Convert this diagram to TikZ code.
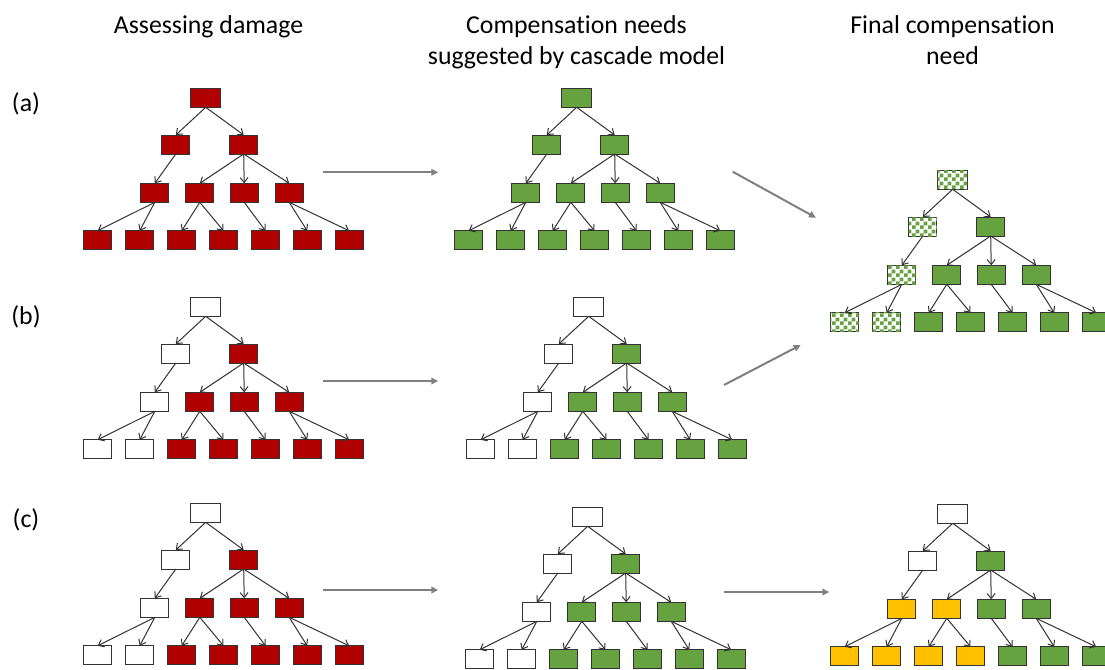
\documentclass[tikz,border=0pt]{standalone}
\usepackage{fontspec}
\setmainfont[Ligatures=NoCommon]{Carlito}
\usetikzlibrary{arrows.meta,patterns}
\pgfdeclarepatternformonly{bigcheck}{\pgfpointorigin}{\pgfqpoint{8pt}{8pt}}{\pgfqpoint{8pt}{8pt}}{%
  \pgfpathrectangle{\pgfpointorigin}{\pgfqpoint{4pt}{4pt}}%
  \pgfpathrectangle{\pgfqpoint{4pt}{4pt}}{\pgfqpoint{4pt}{4pt}}%
  \pgfusepath{fill}}
\definecolor{dmgred}{HTML}{B00000}
\definecolor{cgreen}{HTML}{66A340}
\definecolor{cyellow}{HTML}{FFC000}
\definecolor{edgegray}{HTML}{333333}
\definecolor{flowgray}{HTML}{808080}
\tikzset{
  box/.style={draw=black!80, line width=0.9pt, minimum width=28pt, minimum height=19pt, inner sep=0pt, outer sep=0pt},
  rd/.style={fill=dmgred},
  gr/.style={fill=cgreen},
  yl/.style={fill=cyellow},
  wh/.style={fill=white},
  ck/.style={fill=white, postaction={pattern=bigcheck, pattern color=cgreen}},
  edge/.style={draw=edgegray, line width=1pt, -{Straight Barb[length=5pt,width=8pt]}},
  flow/.style={draw=flowgray, line width=2pt, -{Triangle[length=7pt,width=6.5pt]}},
  title/.style={font=\fontsize{25.8}{31}\selectfont, anchor=base, inner sep=0pt},
  lab/.style={font=\fontsize{25.8}{31}\selectfont, inner sep=0pt}
}
\newcommand\mytree[7]{%
  \begin{scope}[shift={(#2,#3)}]
    \node[box,minimum width=30pt,#4] (#1r) at (205.7,97.8) {};
    \node[box,#4] (#1a1) at (175.8,144.5) {};
    \node[box,#7] (#1a2) at (243.7,144.5) {};
    \node[box,#5] (#1b1) at (154.8,192.8) {};
    \node[box,#6] (#1b2) at (199.8,192.8) {};
    \node[box,#7] (#1b3) at (244.2,192.8) {};
    \node[box,#7] (#1b4) at (289.2,192.8) {};
    \node[box,#5] (#1c1) at (97.7,240.3) {};
    \node[box,#5] (#1c2) at (139.7,240.3) {};
    \node[box,#6] (#1c3) at (181.7,240.3) {};
    \node[box,#6] (#1c4) at (223.5,240.3) {};
    \node[box,#7] (#1c5) at (265.5,240.3) {};
    \node[box,#7] (#1c6) at (307.2,240.3) {};
    \node[box,#7] (#1c7) at (349.2,240.3) {};
  \end{scope}
  \foreach \pa/\ch in {r/a1,r/a2,a1/b1,a2/b2,a2/b3,a2/b4,b1/c1,b1/c2,b2/c3,b2/c4,b3/c5,b4/c6,b4/c7}
    {\draw[edge] (#1\pa.south) -- (#1\ch.north);}
}
\begin{document}
\begin{tikzpicture}[x=1pt,y=-1pt]
\useasboundingbox (0,0) rectangle (1105,669);
% titles
\node[title] (t1) at (208.5,33.6) {Assessing damage};
\node[title] (t2a) at (576.5,33.6) {Compensation needs};
\node[title] (t2b) at (576.5,64.6) {suggested by cascade model};
\node[title] (t3a) at (952.5,33.6) {Final compensation};
\node[title] (t3b) at (952.5,64.6) {need};
% row labels
\node[lab] (la) at (26,104) {(a)};
\node[lab] (lb) at (26,317) {(b)};
\node[lab] (lc) at (26,520) {(c)};
% trees
\mytree{la}{0}{0}{rd}{rd}{rd}{rd}
\mytree{lb}{0}{209}{wh}{wh}{rd}{rd}
\mytree{lc}{0}{415}{wh}{wh}{rd}{rd}
\mytree{ma}{371}{0}{gr}{gr}{gr}{gr}
\mytree{mb}{383}{209}{wh}{wh}{gr}{gr}
\mytree{mc}{382}{419}{wh}{wh}{gr}{gr}
\mytree{fa}{747}{82}{ck}{ck}{gr}{gr}
\mytree{fc}{747}{416}{wh}{yl}{yl}{gr}
% flow arrows
\coordinate (a1s) at (322.7,172.3); \coordinate (a1e) at (438.3,172.3);
\coordinate (b1s) at (323,381);     \coordinate (b1e) at (438.3,381);
\coordinate (c1s) at (323,590);     \coordinate (c1e) at (438.3,590);
\coordinate (c2s) at (724,592);     \coordinate (c2e) at (829.3,592);
\coordinate (a2s) at (732.7,171.7); \coordinate (a2e) at (816,217.7);
\coordinate (b2s) at (724,385);     \coordinate (b2e) at (800.7,345);
\draw[flow] (a1s) -- (a1e);
\draw[flow] (b1s) -- (b1e);
\draw[flow] (c1s) -- (c1e);
\draw[flow] (c2s) -- (c2e);
\draw[flow] (a2s) -- (a2e);
\draw[flow] (b2s) -- (b2e);
\end{tikzpicture}
\end{document}
